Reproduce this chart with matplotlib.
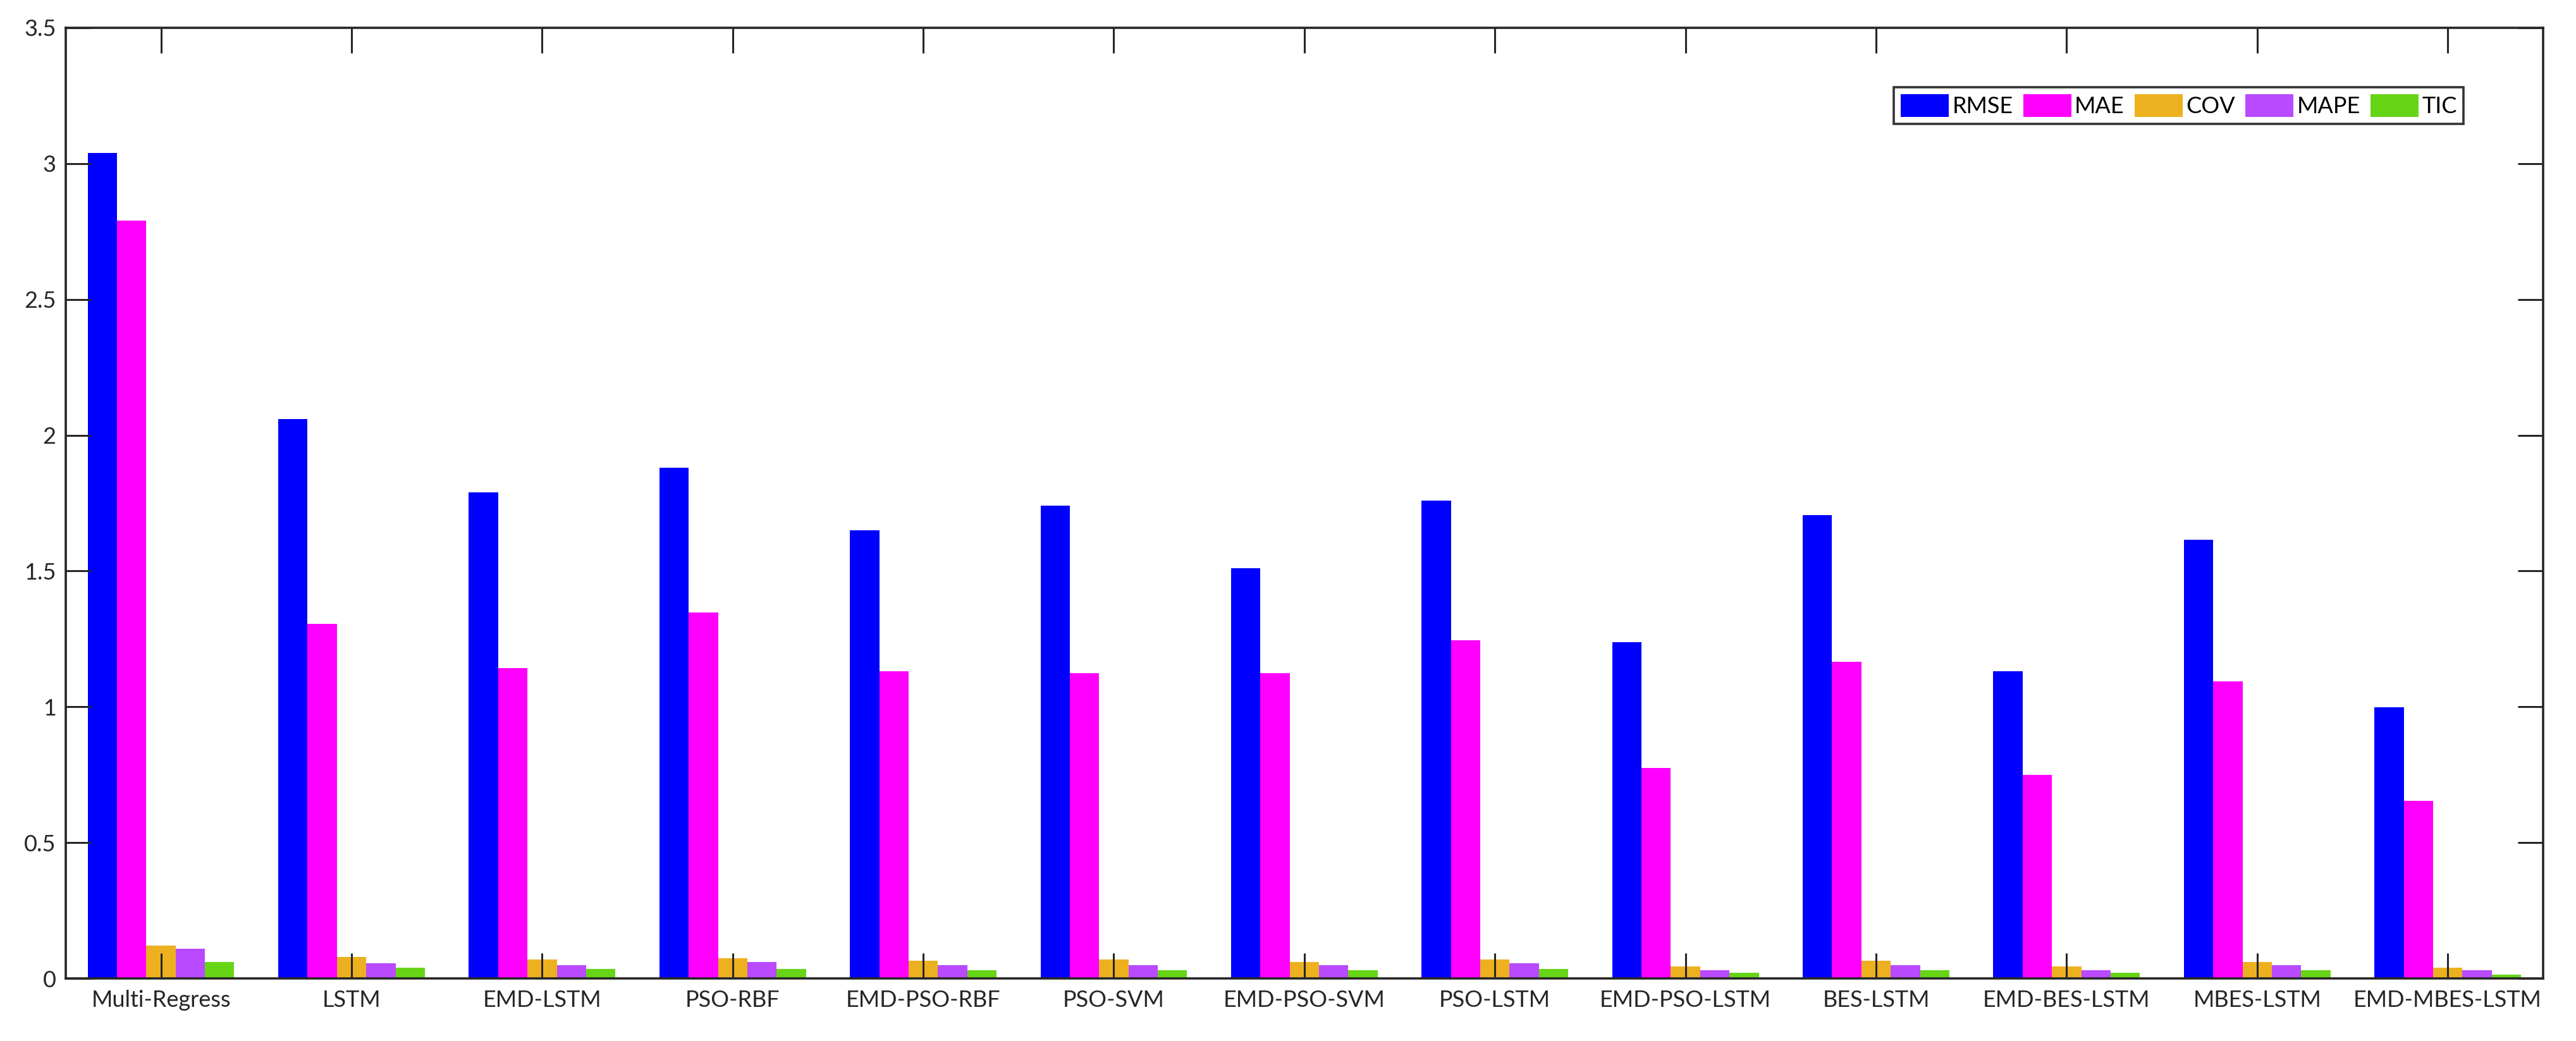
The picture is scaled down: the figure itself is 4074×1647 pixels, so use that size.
import numpy as np
import matplotlib
matplotlib.use("Agg")
import matplotlib.pyplot as plt
from matplotlib import font_manager

# data
models = ["Multi-Regress", "LSTM", "EMD-LSTM", "PSO-RBF", "EMD-PSO-RBF", "PSO-SVM",
          "EMD-PSO-SVM", "PSO-LSTM", "EMD-PSO-LSTM", "BES-LSTM", "EMD-BES-LSTM",
          "MBES-LSTM", "EMD-MBES-LSTM"]
rmse = [3.04, 2.06, 1.79, 1.88, 1.65, 1.741, 1.511, 1.76, 1.239, 1.705, 1.13, 1.614, 0.998]
mae = [2.79, 1.306, 1.143, 1.348, 1.13, 1.125, 1.125, 1.245, 0.774, 1.167, 0.75, 1.094, 0.653]
cov = [0.12, 0.08, 0.07, 0.075, 0.065, 0.07, 0.06, 0.07, 0.045, 0.065, 0.045, 0.06, 0.04]
mape = [0.11, 0.055, 0.05, 0.06, 0.05, 0.05, 0.05, 0.055, 0.03, 0.05, 0.03, 0.05, 0.03]
tic = [0.06, 0.04, 0.035, 0.035, 0.03, 0.03, 0.03, 0.035, 0.02, 0.03, 0.02, 0.03, 0.015]

series = [rmse, mae, cov, mape, tic]
names = ["RMSE", "MAE", "COV", "MAPE", "TIC"]
colors = ["#0000FF", "#FF00FF", "#EDB120", "#B94AFF", "#66D516"]

installed = {f.name for f in font_manager.fontManager.ttflist}
font = "Liberation Sans Narrow" if "Liberation Sans Narrow" in installed else "Lato"
plt.rcParams["font.family"] = [font, "DejaVu Sans"]

fig = plt.figure(figsize=(40.74, 16.47), dpi=100)
ax = fig.add_axes([0.0255, 0.0601, 0.9617, 0.9132])

x = np.arange(1, len(models) + 1)
n = len(series)
group = min(0.8, n / (n + 1.5))
w = group / n
for i, (vals, name, c) in enumerate(zip(series, names, colors)):
    offs = -group / 2 + w * (i + 0.5)
    ax.bar(x + offs, vals, width=w, color=c, label=name, linewidth=0)

ax.set_xlim(0.5, len(models) + 0.5)
ax.set_ylim(0, 3.5)
ax.set_xticks(x)
ax.set_xticklabels(models)
ax.set_yticks(np.arange(0, 3.51, 0.5))
ax.set_yticklabels(["0", "0.5", "1", "1.5", "2", "2.5", "3", "3.5"])

dark = "#262626"
for s in ax.spines.values():
    s.set_linewidth(2.6)
    s.set_color(dark)
ax.tick_params(axis="both", direction="in", length=29, width=2.2, color=dark,
               labelsize=26, labelcolor=dark, top=True, right=True)
ax.tick_params(axis="x", pad=13)
ax.tick_params(axis="y", pad=11)

leg = ax.legend(loc="upper right", bbox_to_anchor=(0.968, 0.9375), borderaxespad=0,
                ncol=5, fontsize=26, frameon=True, fancybox=False, edgecolor="black",
                handlelength=2.1, handleheight=1.15, handletextpad=0.15,
                columnspacing=0.45, borderpad=0.3)
leg.get_frame().set_linewidth(2.6)
for t in leg.get_texts():
    t.set_color("black")

fig.savefig("out.png", dpi=100)
